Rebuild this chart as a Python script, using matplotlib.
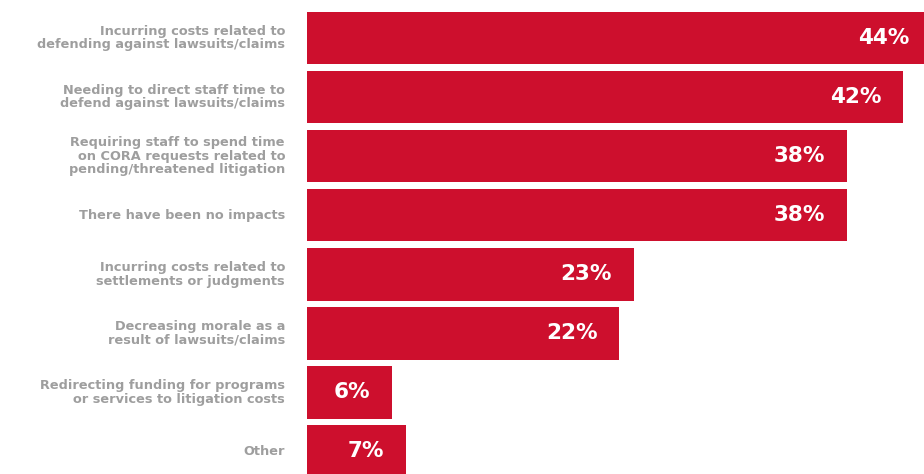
import matplotlib.pyplot as plt

# Survey results: impacts of lawsuits/claims
categories = [
    "Incurring costs related to\ndefending against lawsuits/claims",
    "Needing to direct staff time to\ndefend against lawsuits/claims",
    "Requiring staff to spend time\non CORA requests related to\npending/threatened litigation",
    "There have been no impacts",
    "Incurring costs related to\nsettlements or judgments",
    "Decreasing morale as a\nresult of lawsuits/claims",
    "Redirecting funding for programs\nor services to litigation costs",
    "Other",
]
values = [44, 42, 38, 38, 23, 22, 6, 7]

BAR_COLOR = "#CD0F2D"
LABEL_COLOR = "#9E9E9E"
PX = 72 / 100  # points per pixel at dpi 100

fig = plt.figure(figsize=(9.24, 4.74), dpi=100)
ax = fig.add_axes([307 / 924, 0, 617 / 924, 1])

y = list(range(len(values)))
ax.barh(y, values, height=0.889, color=BAR_COLOR)
ax.set_xlim(0, 617 / 14.2)
ax.set_ylim(7.381, -0.643)
ax.axis("off")

# value labels inside bars, right aligned with a small gap
for yi, v in zip(y, values):
    ax.annotate(f"{v}%", xy=(v, yi), xytext=(-22 * PX, 0), textcoords="offset points",
                ha="right", va="center", color="white", fontsize=15.5,
                family="DejaVu Sans", fontweight="bold", annotation_clip=False)

# category labels to the left of the axes
for yi, lab in zip(y, categories):
    ax.annotate(lab, xy=(0, yi), xycoords=("axes fraction", "data"),
                xytext=(-22 * PX, 0), textcoords="offset points",
                ha="right", va="center", color=LABEL_COLOR, fontsize=9.3,
                family="DejaVu Sans", fontweight="bold",
                linespacing=1.05, multialignment="right")

fig.savefig("out.png", dpi=100)
